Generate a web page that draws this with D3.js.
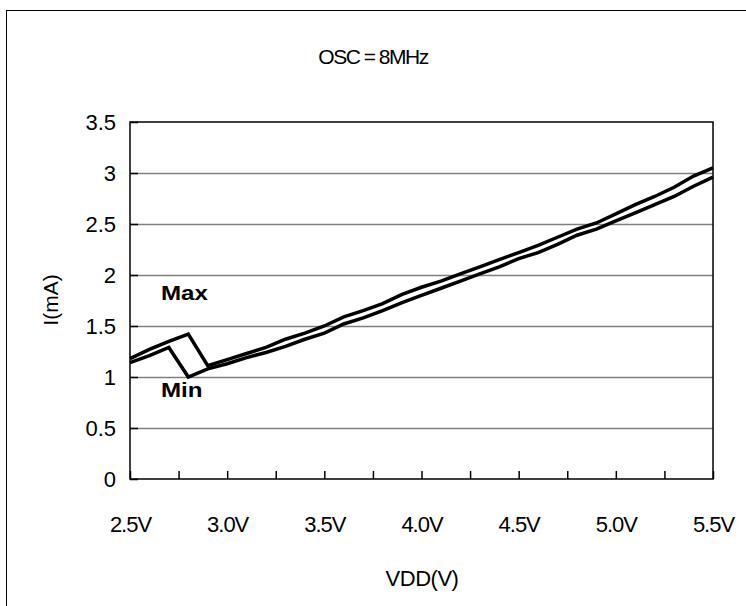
<!DOCTYPE html>
<html><head><meta charset="utf-8">
<script src="https://cdn.jsdelivr.net/npm/d3@7"></script>
<style>html,body{margin:0;padding:0;background:#fff;} svg{display:block;}</style>
</head><body>
<script>
const vdd = [2.5,2.6,2.7,2.8,2.9,3.0,3.1,3.2,3.3,3.4,3.5,3.6,3.7,3.8,3.9,4.0,4.1,4.2,4.3,4.4,4.5,4.6,4.7,4.8,4.9,5.0,5.1,5.2,5.3,5.4,5.5];
const maxCurrent = [1.18,1.27,1.35,1.42,1.11,1.17,1.23,1.29,1.37,1.43,1.50,1.59,1.65,1.72,1.81,1.88,1.94,2.01,2.08,2.15,2.22,2.29,2.37,2.45,2.51,2.60,2.69,2.77,2.86,2.97,3.05];
const minCurrent = [1.14,1.21,1.29,1.00,1.08,1.13,1.19,1.24,1.30,1.37,1.43,1.52,1.58,1.65,1.73,1.80,1.87,1.94,2.01,2.08,2.16,2.22,2.30,2.39,2.45,2.53,2.61,2.69,2.77,2.87,2.96];
const yTicks = [0,0.5,1,1.5,2,2.5,3,3.5];
const xLabels = [2.5,3.0,3.5,4.0,4.5,5.0,5.5];
const xTickMarks = [2.5,2.75,3.0,3.25,3.5,3.75,4.0,4.25,4.5,4.75,5.0,5.25,5.5];
const title = "OSC = 8MHz";
const xTitle = "VDD(V)";
const yTitle = "I(mA)";

const W = 746, H = 606;
const L = 130, R = 713, T = 122, B = 479;
const svg = d3.select("body").append("svg").attr("width", W).attr("height", H);
const font = "'Liberation Sans', Arial, sans-serif";

svg.append("rect").attr("x",6.5).attr("y",10.5).attr("width",800).attr("height",800)
  .attr("fill","none").attr("stroke","#000").attr("stroke-width",1);

const x = d3.scaleLinear().domain([2.5,5.5]).range([L,R]);
const y = d3.scaleLinear().domain([0,3.5]).range([B,T]);

// gridlines
svg.append("g").selectAll("line").data(yTicks.filter(v=>v>0 && v<3.5)).join("line")
  .attr("x1",L).attr("x2",R).attr("y1",d=>Math.round(y(d))+0.5).attr("y2",d=>Math.round(y(d))+0.5)
  .attr("stroke","#808080").attr("stroke-width",1.5);

// plot frame
svg.append("rect").attr("x",L).attr("y",T).attr("width",R-L).attr("height",B-T)
  .attr("fill","none").attr("stroke","#000").attr("stroke-width",1.5);

// y axis ticks (inward) and labels
const yAxis = d3.axisLeft(y).tickValues(yTicks).tickSize(-8).tickPadding(14).tickFormat(d3.format("~g"));
const gy = svg.append("g").attr("transform",`translate(${L},0)`).call(yAxis);
gy.select(".domain").remove();
gy.selectAll(".tick line").attr("stroke","#000").attr("stroke-width",1.5);
gy.selectAll(".tick text").attr("font-family",font).attr("font-size",22).attr("fill","#000");

// x axis ticks (inward)
const xAxisTicks = d3.axisBottom(x).tickValues(xTickMarks).tickSize(-8).tickFormat("");
const gx = svg.append("g").attr("transform",`translate(0,${B})`).call(xAxisTicks);
gx.select(".domain").remove();
gx.selectAll(".tick line").attr("stroke","#000").attr("stroke-width",1.5);
const xAxisLabels = d3.axisBottom(x).tickValues(xLabels).tickSize(0).tickPadding(37).tickFormat(d=>d.toFixed(1)+"V");
const gxl = svg.append("g").attr("transform",`translate(0,${B})`).call(xAxisLabels);
gxl.select(".domain").remove();
gxl.selectAll(".tick text").attr("font-family",font).attr("font-size",22).attr("fill","#000").attr("letter-spacing","-1px");

// lines
const line = d3.line().x((d,i)=>x(vdd[i])).y(d=>y(d));
[maxCurrent,minCurrent].forEach(s=>{
  svg.append("path").datum(s).attr("d",line).attr("fill","none")
    .attr("stroke","#000").attr("stroke-width",3.5).attr("stroke-linejoin","miter");
});

// labels
svg.append("text").attr("transform","translate(161,300) scale(1.15,1)").attr("font-family",font).attr("font-weight","bold")
  .attr("font-size",21).text("Max");
svg.append("text").attr("transform","translate(161,397) scale(1.15,1)").attr("font-family",font).attr("font-weight","bold")
  .attr("font-size",21).text("Min");

svg.append("text").attr("x",373).attr("y",64).attr("text-anchor","middle").attr("font-family",font)
  .attr("font-size",21).attr("letter-spacing","-1.5px").text(title);
svg.append("text").attr("x",422).attr("y",586).attr("text-anchor","middle").attr("font-family",font)
  .attr("font-size",22).attr("letter-spacing","-0.5px").text(xTitle);
svg.append("text").attr("transform","translate(58,300) rotate(-90)").attr("text-anchor","middle")
  .attr("font-family",font).attr("font-size",21).text(yTitle);
</script>
</body></html>
